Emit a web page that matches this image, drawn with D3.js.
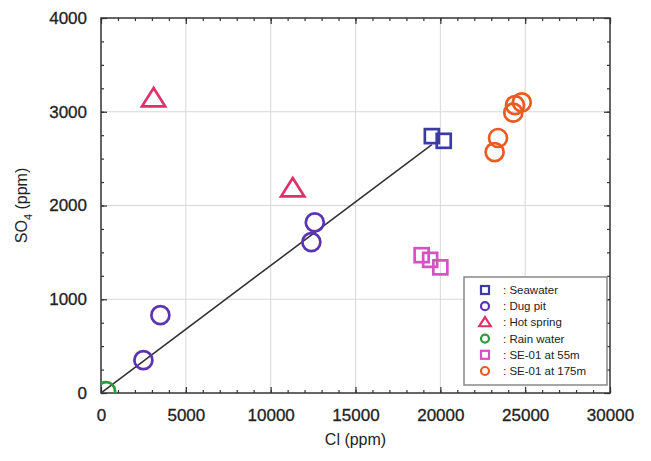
<!DOCTYPE html>
<html><head><meta charset="utf-8">
<script src="https://cdn.jsdelivr.net/npm/d3@7"></script>
<style>body{margin:0;background:#fff}svg{display:block;font-family:"Liberation Sans",Arial,sans-serif}</style>
</head><body><svg id="c" width="651" height="461"></svg>
<script>
const xTicks = [0,5000,10000,15000,20000,25000,30000];
const yTicks = [0,1000,2000,3000,4000];
const seawater = [[19500,2740],[20200,2690]];
const dugPit = [[2500,350],[3500,830],[12600,1820],[12400,1610]];
const hotSpring = [[3100,3140],[11300,2180]];
const rainWater = [[300,20]];
const se55 = [[18900,1470],[19400,1420],[20000,1340]];
const se175 = [[24400,3070],[24800,3100],[24300,2990],[23400,2720],[23200,2570]];
const trendLine = [[0,0],[19500,2650]];
const seriesNames = ["Seawater","Dug pit","Hot spring","Rain water","SE-01 at 55m","SE-01 at 175m"];
const seriesColors = ["#3b3aa6","#5b34b4","#e0306a","#2e9a3e","#d452c2","#ec5a22"];
const seriesShapes = ["square","circle","triangle","circle","square","circle"];
const seriesData = [seawater,dugPit,hotSpring,rainWater,se55,se175];

const svg = d3.select("#c");
const L=101,R=610,T=18,B=393;
const x = d3.scaleLinear().domain([0,30000]).range([L,R]);
const y = d3.scaleLinear().domain([0,4000]).range([B,T]);

// grid
const g = svg.append("g");
g.selectAll(".gx").data(xTicks.slice(1,-1)).enter().append("line")
 .attr("x1",d=>x(d)).attr("x2",d=>x(d)).attr("y1",T).attr("y2",B)
 .attr("stroke","#d8d8d8").attr("stroke-width",1);
g.selectAll(".gy").data(yTicks.slice(1,-1)).enter().append("line")
 .attr("y1",d=>y(d)).attr("y2",d=>y(d)).attr("x1",L).attr("x2",R)
 .attr("stroke","#d8d8d8").attr("stroke-width",1);

// axes
const xMinor = d3.range(0,30001,1000);
const yMinor = d3.range(0,4001,250);
function axisStyle(sel){sel.select(".domain").remove();sel.selectAll("line").attr("stroke","#333").attr("stroke-width",1.2);}
const ax = svg.append("g").attr("transform",`translate(0,${B})`)
 .call(d3.axisBottom(x).tickValues(xTicks).tickSize(-6).tickPadding(16).tickFormat(d3.format("d")));
axisStyle(ax);
ax.selectAll("text").attr("font-size",17).attr("fill","#222").attr("stroke","#222").attr("stroke-width",0.3);
svg.append("g").attr("transform",`translate(0,${B})`).call(d3.axisBottom(x).tickValues(xMinor).tickSize(-3).tickFormat("")).call(axisStyle);
svg.append("g").attr("transform",`translate(0,${T})`).call(d3.axisTop(x).tickValues(xTicks).tickSize(-6).tickFormat("")).call(axisStyle);
svg.append("g").attr("transform",`translate(0,${T})`).call(d3.axisTop(x).tickValues(xMinor).tickSize(-3).tickFormat("")).call(axisStyle);
const ay = svg.append("g").attr("transform",`translate(${L},0)`)
 .call(d3.axisLeft(y).tickValues(yTicks).tickSize(-6).tickPadding(14).tickFormat(d3.format("d")));
axisStyle(ay);
ay.selectAll("text").attr("font-size",17).attr("fill","#222").attr("stroke","#222").attr("stroke-width",0.3);
svg.append("g").attr("transform",`translate(${L},0)`).call(d3.axisLeft(y).tickValues(yMinor).tickSize(-3).tickFormat("")).call(axisStyle);
svg.append("g").attr("transform",`translate(${R},0)`).call(d3.axisRight(y).tickValues(yTicks).tickSize(-6).tickFormat("")).call(axisStyle);
svg.append("g").attr("transform",`translate(${R},0)`).call(d3.axisRight(y).tickValues(yMinor).tickSize(-3).tickFormat("")).call(axisStyle);
svg.append("rect").attr("x",L).attr("y",T).attr("width",R-L).attr("height",B-T)
 .attr("fill","none").attr("stroke","#333").attr("stroke-width",1.5);

// clip
svg.append("clipPath").attr("id","clip").append("rect").attr("x",L).attr("y",T).attr("width",R-L).attr("height",B-T);
const plot = svg.append("g").attr("clip-path","url(#clip)");

// trend line
plot.append("path").datum(trendLine)
 .attr("d",d3.line().x(d=>x(d[0])).y(d=>y(d[1])))
 .attr("stroke","#333").attr("stroke-width",1.6).attr("fill","none");

function drawMarker(sel,shape,color,size,sw){
  if(shape==="circle"){
    sel.append("circle").attr("r",size).attr("fill","none").attr("stroke",color).attr("stroke-width",sw);
  } else if(shape==="square"){
    sel.append("rect").attr("x",-size).attr("y",-size).attr("width",2*size).attr("height",2*size)
      .attr("fill","none").attr("stroke",color).attr("stroke-width",sw);
  } else {
    const h=size*2.3, w=size*1.45;
    sel.append("path").attr("d",`M0,${-h*0.58}L${w},${h*0.42}L${-w},${h*0.42}Z`)
      .attr("fill","none").attr("stroke",color).attr("stroke-width",sw).attr("stroke-linejoin","miter");
  }
}
const sizes = {circle:9,square:7,triangle:8};
seriesData.forEach((data,i)=>{
  data.forEach(d=>{
    const m = plot.append("g").attr("transform",`translate(${x(d[0])},${y(d[1])})`);
    drawMarker(m,seriesShapes[i],seriesColors[i],sizes[seriesShapes[i]],2.7);
  });
});

// legend
const lg = svg.append("g");
lg.append("rect").attr("x",464).attr("y",277).attr("width",143).attr("height",108)
 .attr("fill","#fff").attr("stroke","#888").attr("stroke-width",1.5);
seriesNames.forEach((n,i)=>{
  const yy = 290 + i*16.2;
  const m = lg.append("g").attr("transform",`translate(485,${yy})`);
  drawMarker(m,seriesShapes[i],seriesColors[i],4,2.2);
  lg.append("text").attr("x",503).attr("y",yy+4).attr("font-size",11.5).attr("fill","#222").text(": "+n);
});

// axis titles
svg.append("text").attr("x",(L+R)/2).attr("y",445).attr("text-anchor","middle")
 .attr("font-size",16).attr("fill","#222").text("Cl (ppm)");
const yt = svg.append("text").attr("transform",`translate(27,${(T+B)/2}) rotate(-90)`)
 .attr("text-anchor","middle").attr("font-size",16).attr("fill","#222");
yt.append("tspan").text("SO");
yt.append("tspan").attr("font-size",11).attr("dy",5).text("4");
yt.append("tspan").attr("dy",-5).text(" (ppm)");
</script></body></html>
